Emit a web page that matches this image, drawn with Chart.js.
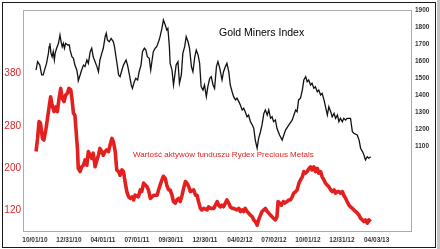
<!DOCTYPE html>
<html>
<head>
<meta charset="utf-8">
<script src="https://cdn.jsdelivr.net/npm/chart.js@4/dist/chart.umd.min.js"></script>
<style>
  html, body { margin: 0; padding: 0; background: #fff; }
  #wrap { position: relative; width: 440px; height: 249px; overflow: hidden; }
  #c { position: absolute; left: 0; top: 0; }
  #frame { position: absolute; left: 2px; top: 2px; width: 434px; height: 246px; box-sizing: border-box; border: 1.5px solid #1a1a1a; pointer-events: none; }
  #strip { position: absolute; left: 437px; top: 0; width: 3px; height: 249px; background: #c4c4c4; }
  #title { position: absolute; left: 219px; top: 27px; font: 10.5px/10.5px "Liberation Sans", Arial, sans-serif; color: #000; white-space: nowrap; }
  #note { position: absolute; left: 133px; top: 151px; font: 8px/8px "Liberation Sans", Arial, sans-serif; color: #e3201f; white-space: nowrap; }
</style>
</head>
<body>
<div id="wrap">
  <canvas id="c" width="440" height="249"></canvas>
  <div id="title">Gold Miners Index</div>
  <div id="note">Wartość aktywów funduszu Rydex Precious Metals</div>
  <div id="frame"></div>
  <div id="strip"></div>
</div>
<script>
// X axis: days counted from 10/01/10
const xTickDays = [0, 91, 182, 273, 364, 455, 549, 640, 731, 822, 915];
const xTickLabels = ['10/01/10', '12/31/10', '04/01/11', '07/01/11', '09/30/11', '12/30/11', '04/02/12', '07/02/12', '10/01/12', '12/31/12', '04/03/13'];
const leftTicks = [120, 200, 280, 380];
const rightTicks = [1100, 1200, 1300, 1400, 1500, 1600, 1700, 1800, 1900];

// Gold Miners Index (right axis)
const goldDays = [3,7,13,18,22,27,31,36,38,40,
  43,46,49,52,54,58,63,67,70,73,
  76,79,82,88,92,94,99,103,107,112,
  115,116,121,125,130,134,139,143,148,152,
  156,161,166,170,174,179,183,188,191,194,
  199,204,210,213,217,221,224,228,233,237,
  244,248,253,258,261,266,270,275,279,284,
  288,293,297,301,306,310,315,317,322,326,
  331,335,340,344,349,353,356,360,362,367,
  371,374,378,383,387,392,396,401,405,410,
  414,419,423,428,432,437,441,445,450,454,
  459,463,468,472,477,481,486,490,495,501,
  505,510,514,519,523,528,532,537,541,546,
  550,555,559,563,568,572,577,582,586,590,
  595,599,604,608,613,617,622,626,631,635,
  639,644,648,655,662,671,680,689,698,702,
  706,711,716,720,725,729,733,738,742,747,
  751,756,760,765,769,774,778,783,787,792,
  796,801,805,810,814,818,823,827,832,836,
  845,850,854,863,868,872,877,881,885,890,
  894,899];
const goldValues = [1547,1596,1576,1518,1518,1557,1586,1645,1684,1704,
  1645,1625,1655,1606,1645,1675,1704,1753,1713,1684,
  1704,1675,1704,1694,1694,1665,1625,1616,1576,1547,
  1508,1484,1518,1547,1576,1567,1606,1586,1655,1675,
  1625,1596,1567,1537,1606,1645,1675,1743,1763,1724,
  1713,1733,1713,1684,1625,1567,1518,1508,1547,1576,
  1606,1576,1518,1459,1439,1478,1498,1488,1537,1576,
  1655,1675,1665,1625,1616,1547,1625,1655,1675,1684,
  1713,1743,1792,1841,1812,1782,1792,1684,1586,1547,
  1459,1508,1576,1596,1469,1518,1645,1684,1743,1713,
  1675,1567,1537,1625,1665,1635,1586,1449,1429,1459,
  1390,1449,1498,1508,1459,1439,1567,1596,1557,1488,
  1537,1567,1586,1537,1459,1419,1390,1371,1381,1361,
  1341,1312,1322,1302,1272,1282,1243,1224,1204,1135,
  1087,1145,1184,1224,1292,1312,1282,1312,1263,1272,
  1243,1253,1204,1165,1135,1194,1224,1253,1312,1302,
  1371,1381,1429,1488,1508,1478,1488,1459,1469,1439,
  1449,1419,1429,1400,1410,1371,1331,1282,1331,1302,
  1272,1292,1263,1282,1243,1263,1243,1263,1253,1263,
  1263,1184,1175,1165,1135,1087,1067,1047,1018,1037,
  1028,1037];

// Rydex Precious Metals fund value (left axis)
const fundDays = [3,7,11,15,20,24,29,33,38,42,
  46,51,56,60,64,69,73,78,82,87,
  91,96,100,103,107,110,114,116,121,125,
  130,134,139,143,148,152,156,161,166,170,
  174,179,183,188,192,197,201,206,210,215,
  219,224,228,233,237,242,246,251,255,260,
  264,268,277,282,286,291,300,304,309,318,
  327,331,335,340,344,349,353,358,362,367,
  371,376,380,385,389,394,398,403,407,412,
  416,425,430,434,438,443,447,452,461,465,
  470,479,483,488,492,496,501,505,510,514,
  519,523,528,532,541,546,550,555,559,563,
  568,572,577,582,586,590,595,599,604,608,
  613,617,622,626,631,635,639,644,648,651,
  655,660,665,669,675,680,684,689,693,698,
  702,707,711,716,720,725,729,734,738,742,
  747,751,756,760,765,769,774,778,783,787,
  792,796,801,805,810,814,818,823,827,832,
  836,841,845,850,854,859,863,868,872,877,
  881,885,890,894,899];
const fundValues = [231,256,288,285,256,253,272,291,316,335,
  319,307,316,307,329,351,332,326,338,342,
  351,348,326,304,300,272,234,199,193,202,
  205,215,205,231,224,218,228,202,215,224,
  237,231,224,231,234,231,243,256,250,231,
  196,193,186,196,193,171,155,145,142,145,
  139,148,145,158,155,171,164,158,142,148,
  148,158,167,177,184,180,167,158,158,148,
  136,133,139,142,136,148,161,174,171,164,
  155,158,148,148,136,123,120,123,120,126,
  123,123,129,136,129,126,129,126,133,139,
  133,126,123,123,120,123,117,120,117,123,
  117,114,110,107,101,98,91,101,110,117,
  120,123,117,114,110,107,104,101,107,136,
  133,129,136,133,136,139,139,145,152,155,
  158,171,177,183,193,190,193,199,202,196,
  202,193,199,190,193,183,177,171,167,164,
  158,155,158,152,155,155,152,155,148,142,
  136,129,126,123,120,117,114,110,104,101,
  98,101,95,101,98];

const toPoints = (xs, ys) => xs.map((x, i) => ({ x: x, y: ys[i] }));

const plotFrame = {
  id: 'plotFrame',
  beforeDatasetsDraw(chart) {
    const a = chart.chartArea, c = chart.ctx;
    c.save();
    c.strokeStyle = '#ababab';
    c.lineWidth = 1;
    c.strokeRect(Math.round(a.left) + 0.5, Math.round(a.top) + 0.5, Math.round(a.right - a.left), Math.round(a.bottom - a.top));
    c.restore();
  }
};

const smallFont = { family: '"Liberation Sans", Arial, sans-serif', size: 6.5, weight: 'bold' };

new Chart(document.getElementById('c'), {
  type: 'line',
  data: {
    datasets: [
      {
        label: 'Wartość aktywów funduszu Rydex Precious Metals',
        data: toPoints(fundDays, fundValues),
        yAxisID: 'yL',
        borderColor: '#e3201f',
        borderWidth: 3.6,
        pointRadius: 0,
        tension: 0,
        borderJoinStyle: 'round'
      },
      {
        label: 'Gold Miners Index',
        data: toPoints(goldDays, goldValues),
        yAxisID: 'yR',
        borderColor: '#111',
        borderWidth: 1.3,
        pointRadius: 0,
        tension: 0
      }
    ]
  },
  options: {
    responsive: false,
    animation: false,
    layout: { padding: { top: 10, left: 0, right: 0, bottom: 0 } },
    plugins: { legend: { display: false }, tooltip: { enabled: false }, title: { display: false } },
    scales: {
      x: {
        type: 'linear',
        min: -32,
        max: 1007,
        afterBuildTicks: (s) => { s.ticks = xTickDays.map(v => ({ value: v })); },
        afterFit: (s) => { s.height = 18; },
        grid: { display: false, drawTicks: false },
        border: { display: false },
        ticks: {
          autoSkip: false, maxRotation: 0, minRotation: 0, padding: 5,
          color: '#333', font: smallFont,
          callback: (v) => { const i = xTickDays.indexOf(v); return i >= 0 ? xTickLabels[i] : ''; }
        }
      },
      yL: {
        type: 'linear',
        position: 'left',
        min: 80,
        max: 500,
        afterBuildTicks: (s) => { s.ticks = leftTicks.map(v => ({ value: v })); },
        afterFit: (s) => { s.width = 23; },
        grid: { display: false, drawTicks: false },
        border: { display: false },
        ticks: {
          autoSkip: false, padding: 2, color: '#d8262a',
          font: { family: '"Liberation Sans", Arial, sans-serif', size: 10 },
          callback: (v) => String(v)
        }
      },
      yR: {
        type: 'linear',
        position: 'right',
        min: 600,
        max: 1900,
        afterBuildTicks: (s) => { s.ticks = rightTicks.map(v => ({ value: v })); },
        afterFit: (s) => { s.width = 29; },
        grid: { display: false, drawTicks: false },
        border: { display: false },
        ticks: {
          autoSkip: false, padding: 4, color: '#333', font: smallFont,
          callback: (v) => String(v)
        }
      }
    }
  },
  plugins: [plotFrame]
});
</script>
</body>
</html>
